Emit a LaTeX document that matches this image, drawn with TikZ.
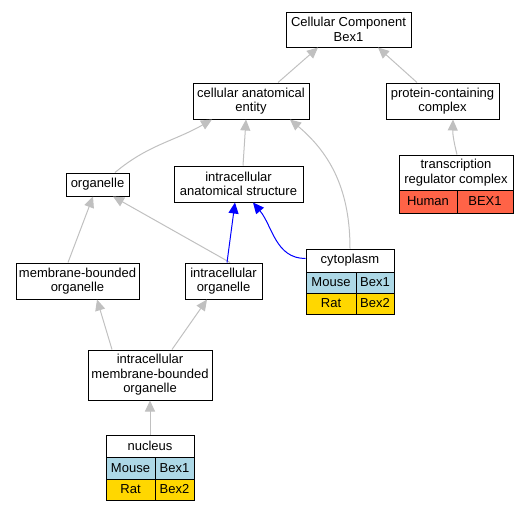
\documentclass[tikz,border=0pt]{standalone}
\usepackage{fontspec}
\setmainfont{Liberation Sans}
\usetikzlibrary{arrows.meta}
\definecolor{edgegray}{RGB}{192,192,192}
\definecolor{mouseblue}{RGB}{173,216,230}
\definecolor{ratgold}{RGB}{255,215,0}
\definecolor{humanred}{RGB}{255,99,71}
\tikzset{
  term/.style={draw, line width=1pt, fill=white, inner sep=1pt, align=center,
    font=\fontsize{13}{14.5}\selectfont},
  cell/.style={term, align=center},
  isa/.style={draw=edgegray, line width=1pt, -{Triangle[length=11pt,width=10pt]}},
  partof/.style={draw=blue, line width=1pt, -{Triangle[length=11pt,width=10pt]}}
}
\begin{document}
\begin{tikzpicture}[x=1pt,y=-1pt]
  \useasboundingbox (0,0) rectangle (529,512);
  \draw
    (348.5,29.5) node[term, minimum width=125, minimum height=35] (cc){Cellular Component\\Bex1}
    (251,101) node[term, minimum width=116, minimum height=36] (cae){cellular anatomical\\entity}
    (442.5,101) node[term, minimum width=113, minimum height=36] (pcc){protein-containing\\complex}
    (97.5,184.5) node[term, minimum width=63, minimum height=23] (org){organelle}
    (238.5,184) node[term, minimum width=129, minimum height=36] (ias){intracellular\\anatomical structure}
    (77.5,281) node[term, minimum width=123, minimum height=36] (mbo){membrane-bounded\\organelle}
    (223.5,281) node[term, minimum width=77, minimum height=36] (io){intracellular\\organelle}
    (150,375) node[term, minimum width=124, minimum height=50] (imbo){intracellular\\membrane-bounded\\organelle}
    % transcription regulator complex with its table
    (456,172.5) node[term, minimum width=114, minimum height=35] (trc){transcription\\regulator complex}
    (428,201.5) node[cell, fill=humanred, minimum width=58, minimum height=23] (trcA){Human}
    (485,201.5) node[cell, fill=humanred, minimum width=56, minimum height=23] (trcB){BEX1}
    % cytoplasm with its table
    (350,260.5) node[term, minimum width=88, minimum height=23] (cyt){cytoplasm}
    (331,282.5) node[cell, fill=mouseblue, minimum width=50, minimum height=21] (cytA){Mouse}
    (375,282.5) node[cell, fill=mouseblue, minimum width=38, minimum height=21] (cytB){Bex1}
    (331,303.5) node[cell, fill=ratgold, minimum width=50, minimum height=21] (cytC){Rat}
    (375,303.5) node[cell, fill=ratgold, minimum width=38, minimum height=21] (cytD){Bex2}
    % nucleus with its table
    (150,446) node[term, minimum width=88, minimum height=22] (nuc){nucleus}
    (130.5,468) node[cell, fill=mouseblue, minimum width=49, minimum height=22] (nucA){Mouse}
    (174.5,468) node[cell, fill=mouseblue, minimum width=39, minimum height=22] (nucB){Bex1}
    (130.5,489.5) node[cell, fill=ratgold, minimum width=49, minimum height=21] (nucC){Rat}
    (174.5,489.5) node[cell, fill=ratgold, minimum width=39, minimum height=21] (nucD){Bex2};
  \begin{scope}[isa]
    \draw (cae.north -| 278,0) to (cc.south -| 318,0);
    \draw (pcc.north -| 417,0) to (cc.south -| 378,0);
    \draw (trc.north -| 457,0) to[bend left=8] (pcc.south -| 453,0);
    \draw (org.north -| 115,0) to[out=40,in=-150] (cae.south -| 212,0);
    \draw (ias.north -| 243,0) to (cae.south -| 246,0);
    \draw (cyt.north) to[out=90,in=-40] (cae.south -| 290,0);
    \draw (mbo.north -| 68,0) to (org.south -| 93,0);
    \draw (io.north -| 230,0) to (org.south -| 113,0);
    \draw (imbo.north -| 112,0) to (mbo.south -| 97,0);
    \draw (imbo.north -| 172,0) to (io.south -| 207,0);
    \draw (nuc.north) to (imbo.south);
  \end{scope}
  \begin{scope}[partof]
    \draw (io.north -| 227,0) to (ias.south -| 235,0);
    \draw (cyt.west) ++(0,-2) to[out=180,in=-50] (ias.south -| 253,0);
  \end{scope}
\end{tikzpicture}
\end{document}
